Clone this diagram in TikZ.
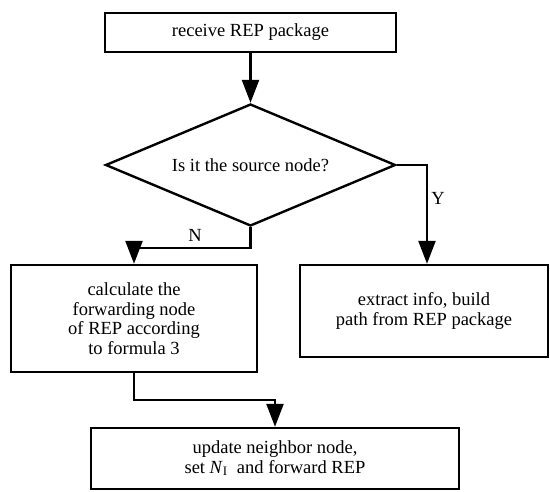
\documentclass[tikz,border=0pt]{standalone}
\usepackage{fontspec}
\setmainfont{Liberation Serif}
\usetikzlibrary{shapes.geometric,arrows.meta}
\begin{document}
\begin{tikzpicture}[x=1pt,y=-1pt,
  txt/.style={font=\fontsize{18.5}{19.5}\selectfont},
  box/.style={draw, line width=2.4pt, align=center, txt, inner sep=0pt},
  dec/.style={draw, diamond, aspect=2.38, line width=2.4pt, align=center, txt, inner sep=0pt},
  conn/.style={line width=2.4pt, -{Triangle[length=23pt,width=17pt]}}]
\useasboundingbox (0,0) rectangle (550,491);
\node[box, minimum width=291pt, minimum height=39pt] (recv) at (250.5,32.5) {receive REP package};
\node[dec, minimum width=290pt, minimum height=122pt] (src) at (250.5,165) {Is it the source node?};
\node[box, minimum width=246pt, minimum height=107pt] (calc) at (134,318.5) {calculate the\\forwarding node\\of REP according\\to formula 3};
\node[box, minimum width=248pt, minimum height=92pt] (extr) at (424,311) {extract info, build\\path from REP package};
\node[box, minimum width=368pt, minimum height=61pt] (upd) at (275,458.5) {update neighbor node,\\set \textit{N}\textsubscript{I}\ \ and forward REP};
\node[txt] (ylbl) at (438,198) {Y};
\node[txt] (nlbl) at (195,235) {N};
\draw[conn] (recv.south) -- (src.north);
\draw[conn] (src.east) -| ([xshift=3pt]extr.north);
\draw[conn] (src.south) -- ++(0,21) -| (calc.north);
\draw[conn] (calc.south) -- ++(0,27) -| (upd.north);
\end{tikzpicture}
\end{document}
